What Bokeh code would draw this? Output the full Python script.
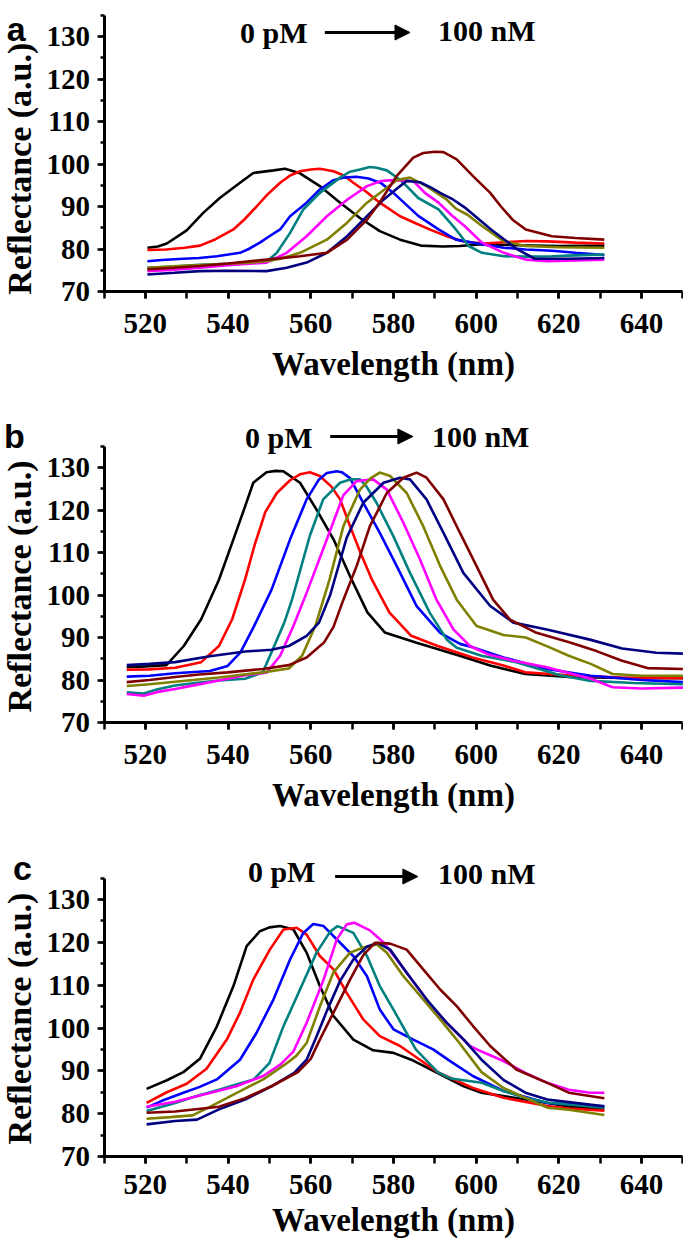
import math
from bokeh.plotting import figure
from bokeh.models import Label, Arrow, NormalHead, SingleIntervalTicker, Range1d
from bokeh.layouts import column
from bokeh.embed import file_html
from bokeh.resources import INLINE

# ---------------- data ----------------
SERIES_NAMES = ["black", "red", "blue", "teal", "magenta", "olive", "navy", "maroon"]
COLORS = ["#000000", "#FF0000", "#0000FF", "#008080", "#FF00FF", "#808000", "#000080", "#800000"]

# Panel a
a_black_x = [520.5, 523, 525.2, 530, 534, 538, 542.9, 546.1, 551, 553.8, 557.4, 562.2, 567.1, 571.9, 576.7, 581.6, 586.6, 592, 596, 601.4, 610, 620, 631]
a_black_y = [80.3, 80.6, 81.3, 84.4, 88.5, 92, 95.6, 97.9, 98.5, 98.9, 97.8, 94.8, 90.9, 87.3, 84.2, 82.2, 80.8, 80.6, 80.7, 81.1, 80.9, 80.7, 80.8]
a_red_x = [520.5, 525, 529.5, 533.2, 537, 541.3, 544, 546.9, 549.5, 552.6, 555, 557.4, 560, 562.2, 565.5, 568, 570.3, 573.5, 576.7, 581.6, 585.5, 589, 592.9, 597.2, 602, 606.7, 612, 617.3, 624, 631]
a_red_y = [79.8, 79.9, 80.3, 80.8, 82.3, 84.6, 87, 90, 92.8, 95.6, 97.3, 98.3, 98.7, 98.9, 98.3, 97.3, 95.6, 93.4, 90.9, 87.7, 86, 84.5, 83, 81.7, 81.3, 81.6, 81.9, 81.8, 81.5, 81.3]
a_blue_x = [520.5, 524, 529.2, 533, 537.3, 542.9, 545, 547.7, 550, 552.6, 555, 559, 562.2, 565.5, 568, 571, 574, 577, 580, 583, 586, 590.9, 595.1, 601.4, 606.7, 612, 618.3, 624, 631]
a_blue_y = [77.1, 77.4, 77.7, 77.9, 78.3, 79.1, 80, 81.5, 83, 84.6, 87.7, 90.9, 94, 96.2, 96.8, 97, 96.6, 95.5, 93.2, 90.5, 87.8, 84.6, 82.2, 81.1, 80.3, 79.9, 79.6, 79.1, 78.6]
a_teal_x = [520.5, 527, 533, 540, 546, 549.3, 551.8, 555, 558.2, 562.2, 567.1, 569.5, 571.9, 574.3, 575.9, 578.4, 581.6, 583.2, 586, 590.9, 595.1, 598.2, 601.4, 606.7, 612, 618.3, 624, 631]
a_teal_y = [75.6, 75.9, 76.3, 76.5, 76.7, 77, 79.1, 83.8, 89.3, 93.2, 96.8, 98.2, 98.7, 99.3, 99.1, 98.5, 96.3, 94.8, 92, 89.3, 84.6, 80.7, 79.1, 78.3, 78.2, 78.3, 78.5, 78.7]
a_magenta_x = [520.5, 527, 533.2, 540, 546, 549.3, 554.2, 559, 563.9, 568.8, 573.6, 577, 580, 584.8, 587.6, 590.9, 594, 597.2, 601.4, 606.7, 612, 617.3, 624, 631]
a_magenta_y = [74.8, 75.1, 75.6, 76.2, 76.6, 76.8, 79.1, 83, 87.7, 91.6, 94.8, 96, 96.2, 96, 93.2, 90.9, 88, 85.4, 81.5, 79.1, 77.5, 77.1, 77.3, 77.5]
a_olive_x = [520.5, 528, 537.3, 545, 549.3, 553, 557.4, 563.9, 568.8, 573.6, 578.4, 580.8, 584, 588, 592.9, 595.1, 598, 601.4, 606.7, 612, 620, 631]
a_olive_y = [75.6, 76, 76.4, 76.8, 77.1, 77.8, 79.1, 82.2, 86.2, 90.9, 94.4, 96.2, 96.8, 94.8, 91.6, 89.5, 88, 85.4, 81.8, 80.7, 80.4, 80.3]
a_navy_x = [520.5, 527, 533.2, 540, 549.3, 554.2, 559, 563.9, 568.8, 573.6, 577.6, 581.6, 583.2, 586.4, 589, 591.3, 594.5, 597.2, 603.6, 610, 614.2, 622.7, 631]
a_navy_y = [74, 74.4, 74.8, 74.9, 74.8, 75.6, 76.8, 79.1, 83, 87.7, 91.6, 94.8, 96, 95.7, 94.5, 93.2, 91.6, 89.8, 84.6, 79.9, 77.7, 77.7, 77.9]
a_maroon_x = [520.5, 527, 533.2, 540, 549.3, 557.4, 563.9, 568.8, 573.6, 576.7, 580.8, 584.8, 587.2, 590, 592.1, 595.3, 599.3, 603.4, 606, 608.8, 612, 618.3, 624, 631]
a_maroon_y = [75.2, 75.6, 76, 76.6, 77.5, 78.3, 79.1, 82.2, 86.9, 91, 97.2, 101.5, 102.6, 102.9, 102.8, 101.1, 97.1, 93.2, 90, 86.9, 84.6, 83, 82.6, 82.2]

# Panel b
b_black_x = [515.5, 520, 525.1, 529.3, 533.5, 537.8, 541.3, 544, 546.1, 549.3, 551.5, 553.4, 557.4, 561.4, 565.5, 569.5, 573.7, 577.9, 585.4, 596, 603.4, 611.9, 622.4, 635, 650]
b_black_y = [83, 83.2, 83.5, 88, 94.3, 103.6, 113.1, 120.5, 126.4, 128.9, 129.2, 129.1, 126.4, 120.1, 113.1, 104.4, 95.9, 91.2, 88.8, 85.7, 83.4, 81.4, 80.7, 80.5, 80.4]
b_red_x = [515.5, 521, 527.2, 533.5, 537.8, 541, 544.1, 546.5, 549, 551.8, 555, 557.4, 559.8, 562.2, 565, 567.1, 569.5, 572, 574.8, 579, 584.3, 590.7, 599.1, 606.6, 611.9, 622.4, 635, 650]
b_red_y = [82.4, 82.5, 82.9, 84.2, 88, 94.3, 103.6, 112, 119.5, 124, 127, 128.4, 128.9, 128, 125.5, 122.5, 116.2, 110, 103.6, 95.9, 90.4, 88, 85.3, 83.4, 81.8, 81.1, 80.6, 80.4]
b_blue_x = [515.5, 521, 527.2, 535.6, 539.9, 543, 546.2, 550.5, 555, 559, 562, 563.9, 566.3, 567.5, 569.5, 572.7, 576.7, 580.8, 585.6, 591.3, 596.1, 599.1, 606.6, 617.1, 627.7, 640, 650]
b_blue_y = [80.8, 81, 81.6, 82.1, 83.3, 86.5, 92.5, 101.2, 113.1, 122.5, 127.2, 128.7, 129.1, 128.9, 127.5, 121.7, 114.6, 106.8, 97.4, 91.1, 88.5, 87.7, 85.3, 82.6, 81, 80, 79.5]
b_teal_x = [515.5, 519.6, 523, 527.2, 532, 537.8, 544.1, 548.4, 550.5, 553.6, 555.5, 557.5, 559.8, 563, 567.1, 569.5, 571.9, 573.5, 575.9, 580, 584, 588.8, 592.9, 595.3, 601.3, 609.7, 620.3, 627.7, 638, 650]
b_teal_y = [77.1, 76.8, 77.8, 78.7, 79.3, 79.9, 80.3, 81.8, 86.5, 93.5, 99, 106, 114, 122.5, 126.4, 127.2, 127.2, 125.5, 121.7, 113.8, 105.2, 95.8, 89.5, 87.6, 85.7, 84.2, 81.1, 79.8, 79.3, 79]
b_magenta_x = [515.5, 519.6, 523, 527.2, 532, 537.8, 544.1, 549.4, 552.6, 555.8, 559, 563.9, 567.9, 571.1, 575.1, 578.4, 582.4, 586.4, 590.4, 594.5, 598.5, 603, 608.7, 617.1, 627.7, 633, 640, 650]
b_magenta_y = [76.7, 76.3, 77.2, 77.9, 78.8, 79.9, 81.1, 81.8, 85.7, 92.7, 100.5, 113.1, 123.5, 126.8, 127.2, 124.8, 117, 108.4, 98.9, 91.9, 88, 86, 84.6, 83, 80.3, 78.3, 78, 78.2]
b_olive_x = [515.5, 521, 527.2, 537.8, 548.4, 554.7, 557.9, 561.1, 564.5, 567.9, 571.9, 574.5, 576.7, 579.2, 583.2, 587.2, 591.3, 595.3, 600.1, 606.6, 612, 617.5, 622.4, 627.7, 633, 640, 650]
b_olive_y = [78.6, 79, 79.6, 80.6, 81.8, 82.7, 85.7, 92.7, 103.5, 116.2, 124.8, 127.5, 128.8, 128, 124, 116.2, 106.8, 98.9, 92.7, 90.6, 90, 87.8, 85.7, 83.8, 81.4, 81, 81]
b_navy_x = [515.5, 521, 527.2, 535.6, 544.1, 550.5, 554.7, 559, 562, 564.7, 568.7, 572.7, 577.6, 581.6, 584, 588, 592.1, 596.9, 603.4, 609, 617.1, 627.5, 635.3, 643.6, 650]
b_navy_y = [83.5, 83.8, 84.2, 85.6, 86.7, 87.1, 88, 90.4, 93.5, 100, 113.5, 121.7, 126.4, 127.6, 127.2, 122.5, 114.6, 105.2, 97.4, 93.5, 91.9, 89.5, 87.4, 86.4, 86.2]
b_maroon_x = [515.5, 521, 527.2, 533, 539.9, 548.4, 554.7, 559, 563.2, 565.5, 567.9, 571.1, 574.3, 578.4, 582.4, 585.6, 588, 592.1, 596.1, 600.1, 604.1, 608.2, 614.6, 622.7, 629.1, 635.1, 641.4, 650]
b_maroon_y = [79.5, 80, 80.7, 81.3, 81.8, 82.6, 83.5, 85.3, 88.8, 92.5, 98.9, 106.8, 116.2, 124, 127.6, 128.8, 127.6, 122.5, 114.6, 106.8, 98.9, 94.2, 91.1, 88.8, 86.8, 84.6, 82.8, 82.6]

# Panel c
c_black_x = [520.3, 525.2, 529.2, 533.2, 537.3, 541.3, 544.5, 547.7, 550, 552.6, 555.8, 559, 562.2, 565.5, 570.3, 575.1, 580, 584.3, 590.7, 597, 601.3, 606.6, 611.9, 617.2, 622.4, 631]
c_black_y = [85.8, 87.8, 89.7, 92.8, 100.4, 109.8, 119.1, 122.6, 123.5, 123.8, 123, 117.6, 109.8, 102.8, 97.3, 94.8, 94.2, 92.6, 89.5, 86.4, 84.9, 84.1, 83.3, 82.5, 81.7, 81]
c_red_x = [520.3, 525.2, 530, 534.8, 539.7, 542.9, 546.1, 550.1, 553.4, 556.6, 559, 562.2, 565.5, 568.7, 572.7, 576.7, 581.6, 586.4, 590.7, 599.2, 606.6, 617.2, 622.4, 631]
c_red_y = [82.5, 85, 87, 90.5, 97.3, 103.6, 111.3, 118.3, 123, 123.4, 121.8, 116.8, 113.7, 108.2, 102, 98.1, 95.8, 92.6, 89.7, 86, 83.7, 81.8, 81.2, 80.7]
c_blue_x = [520.3, 524, 529.2, 533, 537.3, 542.9, 546.9, 551, 555, 558.2, 560.6, 563.1, 567.1, 570.3, 573.6, 576.7, 580, 584.8, 589.6, 593.8, 599.2, 606.6, 617.2, 631]
c_blue_y = [81.4, 83, 84.9, 86.2, 88, 92.6, 98.9, 106.7, 116, 122.2, 124.3, 123.8, 119.9, 116.8, 112.1, 104.3, 99.7, 97.3, 95, 92.2, 88.8, 85.3, 82.5, 81.7]
c_teal_x = [520.3, 527.2, 532, 537.8, 542, 546.2, 550, 553.4, 557.4, 561.4, 564.7, 566.5, 570.3, 573.6, 576.7, 580, 585.4, 590.7, 593.9, 601.3, 606.6, 611.9, 617.2, 631]
c_teal_y = [80.6, 82.5, 84, 85.6, 86.8, 88, 91.8, 100.4, 109, 117.6, 122.5, 123.8, 122.2, 116.8, 109.8, 104.3, 95, 89.7, 88.2, 87.2, 85.3, 83.7, 82.6, 81.4]
c_magenta_x = [520.3, 527.2, 535.6, 542, 548.5, 552.7, 555.8, 559, 563.1, 566.3, 568.7, 570.5, 574.3, 577.5, 580.8, 585.6, 590.4, 595.3, 598.5, 601.3, 606.6, 611.9, 617.2, 622.4, 627.6, 631]
c_magenta_y = [81.6, 82.8, 84.8, 86.4, 88.8, 91.5, 94.5, 101.2, 111.3, 120.7, 124.2, 124.6, 122.8, 120.1, 116, 109.8, 103.6, 98.9, 95.8, 94.5, 92.3, 89.5, 87.2, 85.6, 84.9, 84.9]
c_olive_x = [520.3, 526, 531.4, 535.6, 542, 548.5, 553.8, 556.5, 559, 562.2, 565.5, 569.5, 572.7, 576, 578.4, 582.4, 587.2, 591.3, 595.3, 601.3, 606.6, 611.9, 617.2, 622.4, 631]
c_olive_y = [78.8, 79.2, 79.6, 81.6, 84.8, 88, 91.5, 93.5, 96.5, 105, 113, 117.6, 118.8, 119.5, 117.6, 112.1, 106.7, 102, 97.3, 89.7, 86, 83.7, 81.4, 80.9, 79.7]
c_navy_x = [520.3, 527.2, 532.5, 537.8, 544.1, 550.5, 556, 559, 561.4, 563.9, 567.1, 570.3, 573.6, 576.2, 579.2, 583.2, 588, 592.9, 597, 601.3, 606.6, 611.9, 617.2, 631]
c_navy_y = [77.5, 78.3, 78.6, 81, 83.3, 86.4, 89.5, 92.6, 98, 104, 111, 116, 119, 119.9, 118.3, 112.9, 106.7, 101.2, 97.3, 92.6, 87.9, 84.9, 83.3, 81.7]
c_maroon_x = [520.3, 527.2, 537.8, 544.1, 550.5, 556.9, 560, 562.2, 565.5, 569.5, 572.7, 575.5, 579.2, 583.2, 587.2, 591.3, 595.3, 599.3, 603.4, 609.7, 617.2, 622.4, 631]
c_maroon_y = [80.2, 80.5, 81.6, 83.6, 86.4, 89.7, 92.8, 97.3, 103.6, 111.3, 117, 119.9, 119.7, 118.3, 113.7, 109, 105.1, 100.4, 95.8, 90.3, 87.2, 84.9, 83.6]

PANEL_A = [(a_black_x, a_black_y), (a_red_x, a_red_y), (a_blue_x, a_blue_y), (a_teal_x, a_teal_y),
           (a_magenta_x, a_magenta_y), (a_olive_x, a_olive_y), (a_navy_x, a_navy_y), (a_maroon_x, a_maroon_y)]
PANEL_B = [(b_black_x, b_black_y), (b_red_x, b_red_y), (b_blue_x, b_blue_y), (b_teal_x, b_teal_y),
           (b_magenta_x, b_magenta_y), (b_olive_x, b_olive_y), (b_navy_x, b_navy_y), (b_maroon_x, b_maroon_y)]
PANEL_C = [(c_black_x, c_black_y), (c_red_x, c_red_y), (c_blue_x, c_blue_y), (c_teal_x, c_teal_y),
           (c_magenta_x, c_magenta_y), (c_olive_x, c_olive_y), (c_navy_x, c_navy_y), (c_maroon_x, c_maroon_y)]

SERIF = "Liberation Serif"
SANS = "Liberation Sans"
WIDTH = 683
PX_PER_NM = 4.135
AXIS_PX = 103.5  # canvas x of the y axis (wavelength 510)


def make_panel(series, height, axis_y_px, px_per_unit, s1, s2, letter, letter_xy,
               t0_xy, t1_xy, arrow_x, arrow_y, ytitle_xy):
    x0 = 510 - AXIS_PX / PX_PER_NM
    x1 = 510 + (WIDTH - AXIS_PX) / PX_PER_NM
    y_end = 70 + axis_y_px / px_per_unit
    y_start = 70 - (height - axis_y_px) / px_per_unit
    p = figure(width=WIDTH, height=height,
               x_range=Range1d(x0, x1), y_range=Range1d(y_start, y_end),
               output_backend="svg", toolbar_location=None,
               min_border_left=0, min_border_right=0, min_border_top=0,
               min_border_bottom=0)
    p.outline_line_color = None
    p.xgrid.visible = False
    p.ygrid.visible = False
    p.background_fill_color = "white"
    p.border_fill_color = "white"

    for (xs, ys), col in zip(series, COLORS):
        p.line(xs, ys, line_color=col, line_width=2.6)

    xa = p.xaxis[0]
    xa.ticker = SingleIntervalTicker(interval=20, num_minor_ticks=2)
    xa.bounds = (510, 650)
    xa.fixed_location = 70
    xa.axis_label = "Wavelength (nm)"
    ya = p.yaxis[0]
    ya.ticker = SingleIntervalTicker(interval=10, num_minor_ticks=2)
    ya.bounds = (70, 135)
    ya.fixed_location = 510
    for ax in (xa, ya):
        ax.axis_line_width = 3
        ax.axis_line_color = "black"
        ax.major_tick_line_width = 2.5
        ax.minor_tick_line_width = 2.5
        ax.major_tick_in = 0
        ax.minor_tick_in = 0
        ax.major_label_text_font = SERIF
        ax.major_label_text_font_style = "bold"
        ax.major_label_text_font_size = "29px"
        ax.major_label_text_color = "black"
    xa.axis_label_text_font = SERIF
    xa.axis_label_text_font_style = "bold"
    xa.axis_label_text_color = "black"
    xa.axis_label_text_font_size = "33px"
    xa.major_tick_out = 7
    xa.minor_tick_out = 7
    xa.major_label_standoff = s1
    xa.axis_label_standoff = s2
    ya.major_tick_out = 7
    ya.minor_tick_out = 4
    ya.major_label_standoff = 7

    # y axis title (rotated text placed like the original figure)
    p.add_layout(Label(x=ytitle_xy[0], y=ytitle_xy[1], text="Reflectance (a.u.)",
                       angle=math.pi / 2, text_font=SERIF, text_font_style="bold",
                       text_font_size="34px", text_color="black",
                       text_align="center", text_baseline="middle"))
    p.add_layout(Label(x=letter_xy[0], y=letter_xy[1], text=letter, text_font=SANS,
                       text_font_style="bold", text_font_size="34px", text_color="black",
                       text_baseline="alphabetic", text_align="left"))
    p.add_layout(Label(x=t0_xy[0], y=t0_xy[1], text="0 pM", text_font=SERIF,
                       text_font_style="bold", text_font_size="30px", text_color="black",
                       text_baseline="middle", text_align="left"))
    p.add_layout(Label(x=t1_xy[0], y=t1_xy[1], text="100 nM", text_font=SERIF,
                       text_font_style="bold", text_font_size="30px", text_color="black",
                       text_baseline="middle", text_align="left"))
    p.add_layout(Arrow(end=NormalHead(size=15, fill_color="black", line_color="black"),
                       x_start=arrow_x[0], x_end=arrow_x[1], y_start=arrow_y, y_end=arrow_y,
                       line_width=3, line_color="black"))
    return p


pa = make_panel(PANEL_A, 400, 291, 4.25, 15, 10, "a", (486.5, 131.65),
                (542.9, 130.94), (590.8, 131.4), (563.4, 584.0), 130.94, (489.6, 98.9))
pb = make_panel(PANEL_B, 432, 322, 4.25, 15, 10, "b", (485.8, 137.3),
                (544.1, 137.06), (589.3, 137.3), (564.7, 584.7), 137.3, (489.6, 102.0))
pc = make_panel(PANEL_C, 410, 324, 4.283, 11, 5, "c", (488.0, 137.47),
                (544.8, 136.54), (590.8, 136.07), (565.9, 585.9), 135.37, (489.6, 102.2))

layout = column(pa, pb, pc, spacing=0)
open("out.html", "w").write(file_html(layout, INLINE))
